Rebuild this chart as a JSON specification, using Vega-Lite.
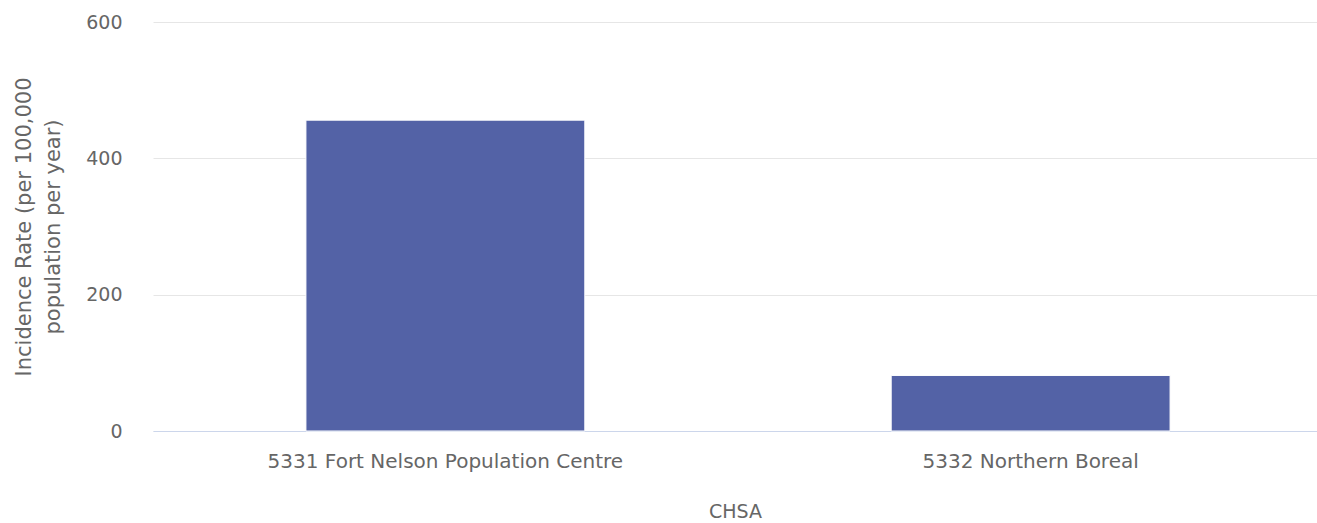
{
  "$schema": "https://vega.github.io/schema/vega-lite/v6.json",
  "width": 1170,
  "height": 409,
  "autosize": {"type": "none"},
  "padding": {"left": 153, "top": 22, "right": 0, "bottom": 92},
  "background": "white",
  "config": {
    "view": {"stroke": null},
    "font": "DejaVu Sans"
  },
  "data": {
    "values": [
      {"CHSA": "5331 Fort Nelson Population Centre", "rate": 456},
      {"CHSA": "5332 Northern Boreal", "rate": 81.5}
    ]
  },
  "mark": {"type": "bar", "color": "#5362a6", "stroke": "#ffffff", "strokeWidth": 1},
  "encoding": {
    "x": {
      "field": "CHSA",
      "type": "nominal",
      "sort": null,
      "scale": {"paddingInner": 0.5235, "paddingOuter": 0.2613},
      "axis": {
        "title": "CHSA",
        "labelAngle": 0,
        "labelFontSize": 20,
        "labelLimit": 0,
        "labelColor": "#666666",
        "labelPadding": 20,
        "ticks": false,
        "domainColor": "#ccd6eb",
        "domainWidth": 1,
        "titleFontSize": 19,
        "titleFontWeight": "normal",
        "titleColor": "#666666",
        "titlePadding": 31,
        "titleX": 582
      }
    },
    "y": {
      "field": "rate",
      "type": "quantitative",
      "scale": {"domain": [0, 600]},
      "axis": {
        "title": ["Incidence Rate (per 100,000", "population per year)"],
        "values": [0, 200, 400, 600],
        "labelFontSize": 19,
        "labelColor": "#666666",
        "labelPadding": 31,
        "ticks": false,
        "domain": false,
        "gridColor": "#e6e6e6",
        "titleFontSize": 21,
        "titleFontWeight": "normal",
        "titleColor": "#666666",
        "titlePadding": 22,
        "titleLineHeight": 29
      }
    }
  }
}
